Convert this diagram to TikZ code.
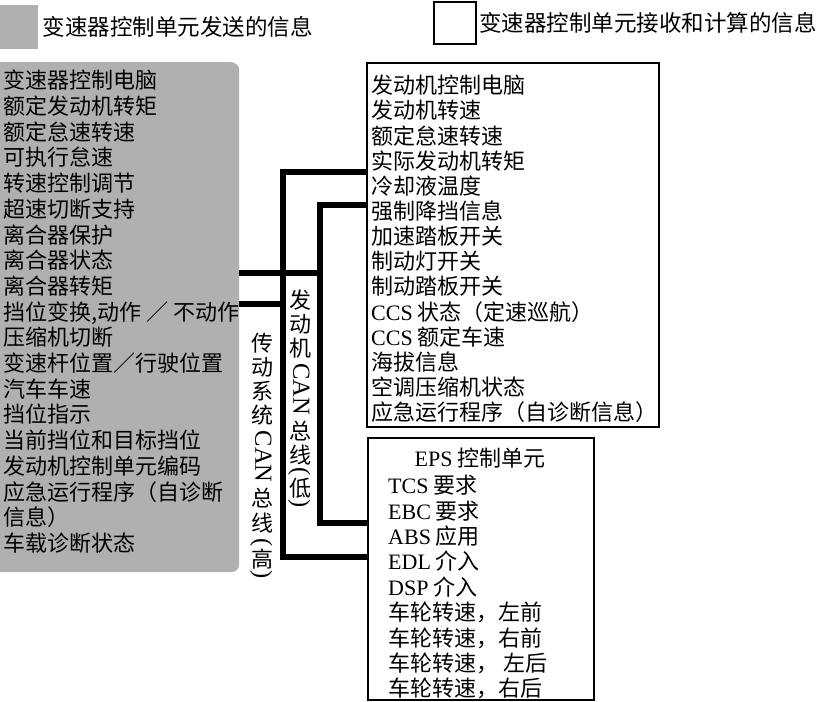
\documentclass[tikz,border=0pt]{standalone}
\usepackage{fontspec}
\setmainfont{Noto Sans CJK SC}
\newfontfamily\lat{Liberation Serif}
\usepackage{graphicx}
\usepackage{tikz}
\usetikzlibrary{
    positioning
}
\definecolor{sendgray}{HTML}{B0B0B0}

% upright CJK character / raised Latin in a vertical label
\newcommand\vchar[1]{\rotatebox{90}{\rule[-.15em]{0pt}{1.1em}#1}}
\newcommand\vlat[1]{\raisebox{.15em}{\lat\fontsize{24.5}{24.5}\selectfont #1}}

\tikzset{
    sendbox/.style={rectangle, fill=sendgray, inner sep=0},
    recvbox/.style={rectangle, draw=black, line width=1.6, fill=white, inner sep=0},
    keytext/.style={inner sep=0, font=\fontsize{22.5}{26}\selectfont},
    listtext/.style={align=left, inner sep=0, anchor=north west},
    buslabel/.style={rotate=-90, inner sep=0, anchor=west, font=\fontsize{22}{22}\selectfont},
    bus/.style={line width=5.5, black}
}

\begin{document}
\begin{tikzpicture}[x=1pt, y=-1pt]

    \useasboundingbox (0,0) rectangle (821,701);

    % Legend
    \node[sendbox, minimum width=38, minimum height=44, anchor=north west] (sendkey) at (0,5) {};
    \node[keytext, right=4pt of sendkey] (sendnote) {变速器控制单元发送的信息};
    \node[recvbox, line width=2, minimum width=42, minimum height=42, anchor=north west] (recvkey) at (433,1) {};
    \node[keytext, right=2pt of recvkey] (recvnote) {变速器控制单元接收和计算的信息};

    % Transmission control unit (sent)
    \node[sendbox, rounded corners=8, minimum width=249, minimum height=510, anchor=north west] (tcubox) at (-10,62) {};
    \node[listtext, font=\fontsize{22}{25.7}\selectfont] (tcutext) at (3,70) {
        变速器控制电脑\\
        额定发动机转矩\\
        额定怠速转速\\
        可执行怠速\\
        转速控制调节\\
        超速切断支持\\
        离合器保护\\
        离合器状态\\
        离合器转矩\\
        挡位变换,动作 ／ 不动作\\
        压缩机切断\\
        变速杆位置／行驶位置\\
        汽车车速\\
        挡位指示\\
        当前挡位和目标挡位\\
        发动机控制单元编码\\
        应急运行程序（自诊断\\
        信息）\\
        车载诊断状态
    };

    % Engine control unit (received)
    \node[recvbox, minimum width=292, minimum height=364, anchor=north west] (ecubox) at (366,62) {};
    \node[listtext, font=\fontsize{22}{25.15}\selectfont] (ecutext) at (371,75) {
        发动机控制电脑\\
        发动机转速\\
        额定怠速转速\\
        实际发动机转矩\\
        冷却液温度\\
        强制降挡信息\\
        加速踏板开关\\
        制动灯开关\\
        制动踏板开关\\
        {\lat CCS} 状态（定速巡航）\\
        {\lat CCS} 额定车速\\
        海拔信息\\
        空调压缩机状态\\
        应急运行程序（自诊断信息）
    };

    % EPS control unit (received)
    \node[recvbox, minimum width=226, minimum height=262, anchor=north west] (epsbox) at (367,437) {};
    \node[inner sep=0, anchor=base, font=\fontsize{22}{25.4}\selectfont] (epstitle) at (480,466) {{\lat EPS} 控制单元};
    \node[listtext, font=\fontsize{22}{25.4}\selectfont] (epstext) at (388,475) {
        {\lat TCS} 要求\\
        {\lat EBC} 要求\\
        {\lat ABS} 应用\\
        {\lat EDL} 介入\\
        {\lat DSP} 介入\\
        车轮转速，左前\\
        车轮转速，右前\\
        车轮转速， 左后\\
        车轮转速，右后
    };

    % CAN buses
    \coordinate (lowjoin) at (320,273);
    \coordinate (lowtop) at (320,205);
    \coordinate (lowbot) at (320,523);
    \coordinate (highjoin) at (283,304);
    \coordinate (hightop) at (283,172);
    \coordinate (highbot) at (283,557);

    \draw[bus] (ecubox.west |- hightop) -- (hightop) -- (highbot) -- (epsbox.west |- highbot);
    \draw[bus] (tcubox.east |- highjoin) -- (highjoin);
    \draw[bus] (ecubox.west |- lowtop) -- (lowtop) -- (lowbot) -- (epsbox.west |- lowbot);
    \draw[bus] (tcubox.east |- lowjoin) -- (lowjoin);

    \node[buslabel] (lowlabel) at (300,287) {\vchar{发}\vchar{动}\vchar{机}\,\vlat{CAN}\,\vchar{总}\vchar{线}\vlat{(}\vchar{低}\vlat{)}};
    \node[buslabel] (highlabel) at (262,330) {\vchar{传}\vchar{动}\vchar{系}\vchar{统}\,\vlat{CAN}\,\vchar{总}\vchar{线}\,\vlat{(}\vchar{高}\vlat{)}};

\end{tikzpicture}
\end{document}
